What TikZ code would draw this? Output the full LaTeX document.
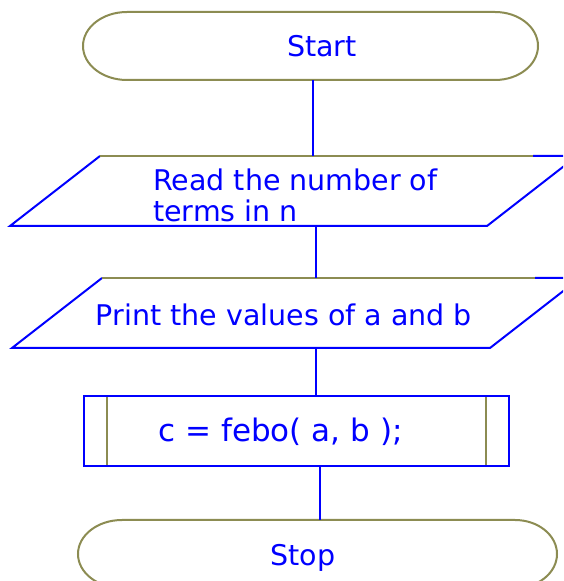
\documentclass[tikz,border=0pt]{standalone}
\usepackage{fontspec}
\setmainfont{DejaVu Sans}
\definecolor{fblue}{RGB}{0,0,255}
\definecolor{folive}{RGB}{140,140,82}
\tikzset{
  x=1pt, y=1pt,
  shapebox/.style={draw=none, inner sep=0pt},
  txt/.style={text=fblue, inner sep=0pt, font=\fontsize{28.5}{31}\selectfont},
  blueline/.style={draw=fblue, line width=2pt},
  oliveline/.style={draw=folive, line width=2pt},
  conn/.style={draw=fblue, line width=2.2pt}
}
\begin{document}
\begin{tikzpicture}
\useasboundingbox (0,0) rectangle (563,581);
\clip (0,0) rectangle (563,581);
\fill[white] (0,0) rectangle (563,581);

% invisible shape nodes
\node[shapebox, minimum width=455pt, minimum height=68pt] (start) at (310.5,535) {};
\node[shapebox, minimum width=567pt, minimum height=70pt] (read) at (293.5,390) {};
\node[shapebox, minimum width=568pt, minimum height=70pt] (print) at (296,268) {};
\node[shapebox, minimum width=425pt, minimum height=70pt] (febo) at (296.5,150) {};
\node[shapebox, minimum width=479pt, minimum height=68pt] (stop) at (317.5,27) {};

% Start terminal
\draw[oliveline] (127,569) -- (495,569) arc[start angle=90, end angle=-90, x radius=43, y radius=34]
  -- (127,501) arc[start angle=270, end angle=90, x radius=44, y radius=34] -- cycle;
\node[txt] (tstart) at (322,535) {Start};

% Read parallelogram
\draw[blueline] (533,425) -- (577,425) -- (487,355) -- (10,355) -- (100,425);
\draw[oliveline] (100,425) -- (533,425);
\node[txt, anchor=west, align=left] (tread) at (153,386) {Read the number of\\terms in n};

% Print parallelogram
\draw[blueline] (535,303) -- (580,303) -- (490,233) -- (12,233) -- (102,303);
\draw[oliveline] (102,303) -- (535,303);
\node[txt] (tprint) at (284,266) {Print the values of a and b};

% Predefined process
\draw[blueline] (84,115) rectangle (509,185);
\draw[oliveline] (107,116) -- (107,184);
\draw[oliveline] (486,116) -- (486,184);
\node[txt, font=\fontsize{31}{34}\selectfont] (tfebo) at (280.5,149) {c = febo( a, b );};

% Stop terminal
\draw[oliveline] (122,61) -- (515,61) arc[start angle=90, end angle=-90, x radius=42, y radius=34]
  -- (122,-7) arc[start angle=270, end angle=90, x radius=44, y radius=34] -- cycle;
\node[txt] (tstop) at (303,23) {Stop};

% connectors
\draw[conn] ([xshift=2.5pt]start.south) -- ([xshift=2.5pt]start.south |- read.north);
\draw[conn] ([xshift=22.5pt]read.south) -- ([xshift=22.5pt]read.south |- print.north);
\draw[conn] ([xshift=20pt]print.south) -- ([xshift=20pt]print.south |- febo.north);
\draw[conn] ([xshift=23.5pt]febo.south) -- ([xshift=23.5pt]febo.south |- stop.north);
\end{tikzpicture}
\end{document}
